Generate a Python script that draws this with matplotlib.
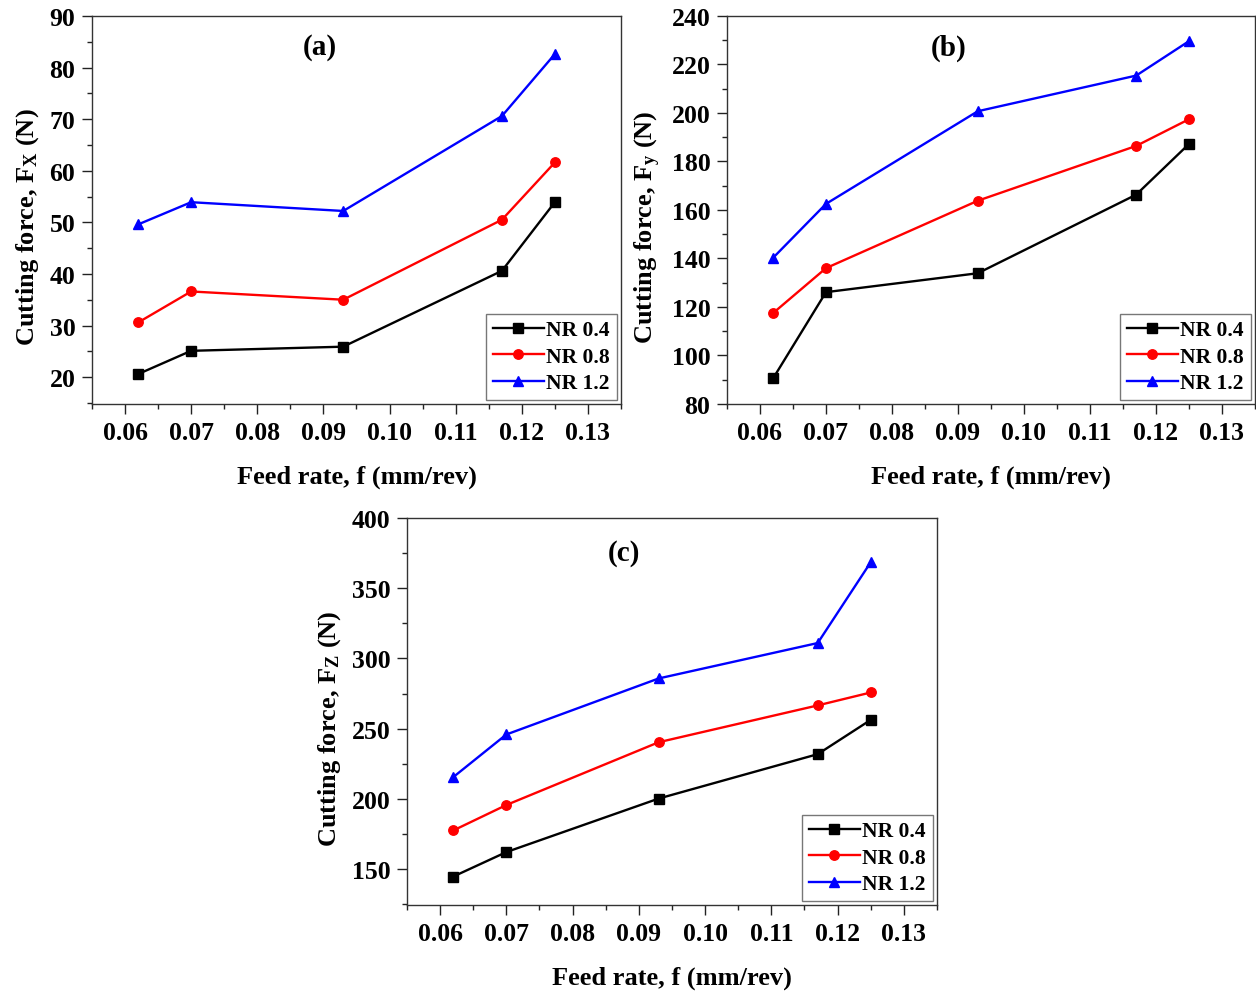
import matplotlib
matplotlib.use("Agg")
import matplotlib.pyplot as plt
from matplotlib.ticker import MultipleLocator

plt.rcParams["font.family"] = "Liberation Serif"
plt.rcParams["font.weight"] = "bold"
plt.rcParams["axes.labelweight"] = "bold"
plt.rcParams["mathtext.fontset"] = "custom"
plt.rcParams["mathtext.rm"] = "Liberation Serif:bold"
plt.rcParams["mathtext.it"] = "Liberation Serif:bold"
plt.rcParams["mathtext.default"] = "rm"

# feed rates (mm/rev)
feed = [0.062, 0.070, 0.093, 0.117, 0.125]
labels = ["NR 0.4", "NR 0.8", "NR 1.2"]

# cutting force Fx (N)
fx_04 = [20.6, 25.1, 25.9, 40.6, 53.9]
fx_08 = [30.6, 36.6, 35.0, 50.5, 61.6]
fx_12 = [49.6, 53.9, 52.2, 70.6, 82.6]

# cutting force Fy (N)
fy_04 = [90.6, 126.1, 133.9, 166.3, 187.2]
fy_08 = [117.5, 136.0, 163.8, 186.4, 197.4]
fy_12 = [140.3, 162.5, 200.7, 215.4, 229.6]

# cutting force Fz (N)
fz_04 = [144.8, 162.2, 200.3, 231.9, 256.3]
fz_08 = [177.6, 195.7, 240.4, 266.6, 275.8]
fz_12 = [215.6, 245.9, 285.8, 311.0, 368.5]

colors = ["black", "red", "blue"]
markers = ["s", "o", "^"]


def draw_panel(ax, series, ylim, ymajor, yminor, ylabel, tag, tag_xy):
    for ys, c, m, lab in zip(series, colors, markers, labels):
        ax.plot(feed, ys, color=c, marker=m, markersize=6.8, lw=1.7, label=lab)
    ax.set_xlim(0.055, 0.135)
    ax.set_ylim(*ylim)
    ax.xaxis.set_major_locator(MultipleLocator(0.01))
    ax.xaxis.set_minor_locator(MultipleLocator(0.005))
    ax.yaxis.set_major_locator(MultipleLocator(ymajor))
    ax.yaxis.set_minor_locator(MultipleLocator(yminor))
    ax.xaxis.set_major_formatter(plt.FuncFormatter(lambda v, p: f"{v:.2f}"))
    ax.tick_params(which="major", direction="out", length=7, width=1.0,
                   labelsize=18.5, colors="#222222", labelcolor="black", pad=5)
    ax.tick_params(which="minor", direction="out", length=3.5, width=1.0,
                   colors="#222222")
    for s in ax.spines.values():
        s.set_color("#333333")
        s.set_linewidth(1.0)
    ax.set_xlabel("Feed rate, f (mm/rev)", fontsize=19, labelpad=15)
    ax.set_ylabel(ylabel, fontsize=19, labelpad=6)
    # y label sits a little below the axis centre
    ax.yaxis.label.set_y(0.459)
    ax.text(tag_xy[0], tag_xy[1], tag, transform=ax.transAxes, fontsize=21,
            ha="center", va="center")
    leg = ax.legend(loc="lower right", fontsize=15.5, frameon=True, fancybox=False,
                    handlelength=2.4, handletextpad=0.1, labelspacing=0.3,
                    borderpad=0.3, borderaxespad=0.2)
    leg.get_frame().set_edgecolor("#555555")
    leg.get_frame().set_linewidth(1.0)


fig = plt.figure(figsize=(12.56, 9.95), dpi=100)

ax_a = fig.add_axes([0.0732, 0.593, 0.4212, 0.390])
draw_panel(ax_a, [fx_04, fx_08, fx_12], (14.8, 90), 10, 5,
           "Cutting force, F$_X$ (N)", "(a)", (0.431, 0.92))

ax_b = fig.add_axes([0.5788, 0.593, 0.4204, 0.390])
draw_panel(ax_b, [fy_04, fy_08, fy_12], (80, 240), 20, 10,
           "Cutting force, F$_y$ (N)", "(b)", (0.419, 0.92))

ax_c = fig.add_axes([0.3240, 0.0894, 0.4220, 0.389])
draw_panel(ax_c, [fz_04, fz_08, fz_12], (124.5, 400), 50, 25,
           "Cutting force, F$_Z$ (N)", "(c)", (0.41, 0.912))

fig.savefig("out.png", dpi=100)
